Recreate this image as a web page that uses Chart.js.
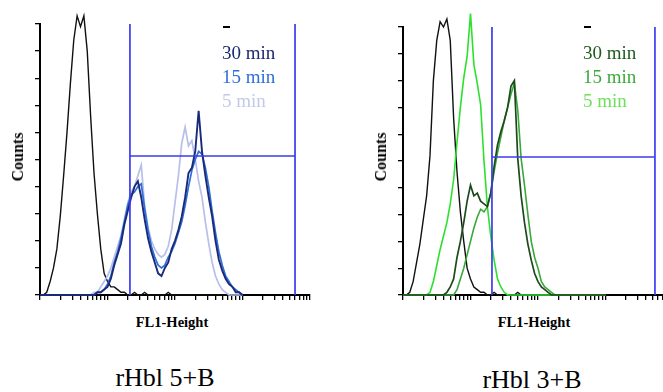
<!DOCTYPE html>
<html>
<head>
<meta charset="utf-8">
<script src="https://cdn.jsdelivr.net/npm/chart.js@4.4.1/dist/chart.umd.min.js"></script>
<style>
  body { margin: 0; width: 663px; height: 392px; overflow: hidden; position: relative; background: #fff; font-family: "Liberation Serif", "Times New Roman", serif; }
  canvas { position: absolute; top: 0; }
  .lbl { position: absolute; white-space: nowrap; line-height: 1; transform: translate(-50%, -50%); }
  .ylab { font-weight: bold; font-size: 16px; transform: translate(-50%, -50%) rotate(-90deg); }
  .xlab { font-weight: bold; font-size: 14.5px; }
  .cap { font-size: 26px; }
  .leg { position: absolute; font-size: 19px; line-height: 24px; white-space: nowrap; }
  .dash { position: absolute; width: 7px; height: 2px; background: #000; }
</style>
</head>
<body>
<canvas id="left" width="340" height="305" style="left:0"></canvas>
<canvas id="right" width="340" height="305" style="left:363px"></canvas>

<div class="lbl ylab" style="left:18px;top:157px">Counts</div>
<div class="lbl ylab" style="left:381px;top:157px">Counts</div>
<div class="lbl xlab" style="left:172px;top:322px">FL1-Height</div>
<div class="lbl xlab" style="left:534px;top:322px">FL1-Height</div>
<div class="lbl cap" style="left:165px;top:378px">rHbl 5+B</div>
<div class="lbl cap" style="left:532px;top:380px">rHbl 3+B</div>

<div class="dash" style="left:223px;top:26px"></div>
<div class="leg" style="left:222px;top:41px;color:#1c2a70">30 min</div>
<div class="leg" style="left:222px;top:65px;color:#2f6fd8">15 min</div>
<div class="leg" style="left:222px;top:89px;color:#c4c9e8">5 min</div>

<div class="dash" style="left:584px;top:26px"></div>
<div class="leg" style="left:583px;top:41px;color:#1f5a1f">30 min</div>
<div class="leg" style="left:583px;top:65px;color:#3caa3c">15 min</div>
<div class="leg" style="left:583px;top:89px;color:#6ee05a">5 min</div>

<script>
// FL1 channel positions, in decades (FL1 = 10^d)
const channelDecades = [
  0.00, 0.05, 0.10, 0.15, 0.20, 0.25, 0.30, 0.35, 0.40, 0.45,
  0.50, 0.55, 0.60, 0.65, 0.70, 0.75, 0.80, 0.85, 0.90, 0.95,
  1.00, 1.05, 1.10, 1.15, 1.20, 1.25, 1.30, 1.35, 1.40, 1.45,
  1.50, 1.55, 1.60, 1.65, 1.70, 1.75, 1.80, 1.85, 1.90, 1.95,
  2.00, 2.05, 2.10, 2.15, 2.20, 2.25, 2.30, 2.35, 2.40, 2.45,
  2.50, 2.55, 2.60, 2.65, 2.70, 2.75, 2.80, 2.85, 2.90, 2.95,
  3.00
];

// rHbl 5+B
const ctrlLeft = [0,0,1,5,10,17,29,44,60,78, 94,103,99,103,90,66,45,30,17,8, 5,3,3,2,1,1,0,0,1,0, 0,1,0,0,0,0,0,0,1,0, 0,0,0,0,0,0,0,0,0,0, 0,0,0,0,0,0,0,0,0,0, 0];
const min30Left = [0,0,0,0,0,0,0,0,0,0, 0,0,0,0,0,0,0,1,1,2, 3,6,11,15,19,26,31,36,40,42, 36,28,21,16,12,8,7,10,12,17, 20,24,29,36,45,47,53,68,53,44, 36,29,20,13,9,6,4,3,1,1, 0];
const min15Left = [0,0,0,0,0,0,0,0,0,0, 0,0,0,0,0,0,0,1,1,2, 4,7,12,16,21,27,33,37,38,40, 41,32,24,18,14,11,10,11,14,16, 19,23,27,33,40,46,50,53,52,47, 40,31,23,16,11,7,5,3,2,1, 0];
const min5Left = [0,0,0,0,0,0,0,0,0,0, 0,0,0,0,0,0,1,1,3,5, 7,10,14,18,22,28,34,38,40,44, 48,33,25,20,17,15,14,15,18,24, 34,44,56,62,55,57,50,42,36,27, 19,12,7,4,2,1,0,0,0,0, 0];

// rHbl 3+B
const ctrlRight = [0,0,1,5,12,19,28,37,52,80, 95,102,100,103,95,66,46,31,20,10, 6,3,2,1,1,0,0,1,0,0, 0,0,0,0,1,0,0,0,0,0, 0,0,0,0,0,0,0,0,0,0, 0,0,0,0,0,0,0,0,0,0, 0];
const min30Right = [0,0,0,0,0,0,0,0,0,0, 0,0,0,1,3,6,14,20,27,35, 41,37,38,35,34,33,38,48,56,61, 65,70,78,80,51,37,27,19,13,8, 5,3,2,1,0,0,0,0,0,0, 0,0,0,0,0,0,0,0,0,0, 0];
const min15Right = [0,0,0,0,0,0,0,0,0,0, 0,0,0,0,0,0,2,6,10,15, 20,25,29,32,31,33,38,46,53,59, 65,70,75,79,69,51,41,30,20,14, 10,5,3,2,1,0,0,0,0,0, 0,0,0,0,0,0,0,0,0,0, 0];
const min5Right = [0,0,0,0,0,0,0,0,1,5, 11,17,22,27,34,43,57,70,81,89, 105,86,79,71,50,33,22,13,6,3, 1,0,0,0,0,0,0,0,0,0, 0,0,0,0,0,0,0,0,0,0, 0,0,0,0,0,0,0,0,0,0, 0];

// gates (FL1 low/high, count level)
const leftGateX = [21.5, 6000];
const leftGateY = 51.3;
const rightGateX = [20.8, 5400];
const rightGateY = 51.5;

const xTickValues = [1,2,3,4,5,6,7,8,9,10, 20,30,40,50,60,70,80,90,100, 200,300,400,500,600,700,800,900,1000, 2000,3000,4000,5000,6000,7000,8000,9000,10000];
const yTickValues = [0,10,20,30,40,50,60,70,80,90,100];

function serie(counts) {
  return counts.map((c, i) => ({ x: Math.pow(10, channelDecades[i]), y: c }));
}

function gate(gx, gy) {
  return [
    { x: gx[0], y: 0 }, { x: gx[0], y: 100 }, { x: gx[0], y: null },
    { x: gx[0], y: gy }, { x: gx[1], y: gy }, { x: gx[1], y: null },
    { x: gx[1], y: 100 }, { x: gx[1], y: 0 }
  ];
}

function linha(data, cor, largura) {
  return { data, borderColor: cor, borderWidth: largura, pointRadius: 0, tension: 0, fill: false, clip: false, spanGaps: false };
}

function montarPainel(id, topo, series, gx, gy) {
  const datasets = [linha(gate(gx, gy), "#3c3cf0", 1.7)];
  series.forEach(s => datasets.push(linha(serie(s.dados), s.cor, s.largura)));
  new Chart(document.getElementById(id), {
    type: "line",
    data: { datasets },
    options: {
      responsive: false,
      animation: false,
      layout: { padding: { top: topo, right: 30, left: 0, bottom: 0 } },
      plugins: { legend: { display: false }, tooltip: { enabled: false } },
      scales: {
        x: {
          type: "logarithmic", min: 1, max: 10000,
          afterBuildTicks: s => { s.ticks = xTickValues.map(v => ({ value: v })); },
          afterFit: s => { s.height = 10; },
          ticks: { display: false },
          grid: { drawOnChartArea: false, drawTicks: true, tickLength: 5, color: "#000", lineWidth: 1.3 },
          border: { color: "#000", width: 2 }
        },
        y: {
          type: "linear", min: 0, max: 100,
          afterBuildTicks: s => { s.ticks = yTickValues.map(v => ({ value: v })); },
          afterFit: s => { s.width = 40; },
          ticks: { display: false },
          grid: { drawOnChartArea: false, drawTicks: true, tickLength: 5, color: "#000", lineWidth: 1.3 },
          border: { color: "#000", width: 2 }
        }
      }
    }
  });
}

montarPainel("left", 24, [
  { dados: min30Left, cor: "#1a2a7a", largura: 1.9 },
  { dados: min15Left, cor: "#2f6fd8", largura: 1.7 },
  { dados: min5Left, cor: "#b8bfea", largura: 1.7 },
  { dados: ctrlLeft, cor: "#111", largura: 1.4 }
], leftGateX, leftGateY);

montarPainel("right", 27, [
  { dados: min30Right, cor: "#1d4a1d", largura: 1.7 },
  { dados: min15Right, cor: "#3aa83a", largura: 1.6 },
  { dados: min5Right, cor: "#2ee02e", largura: 1.6 },
  { dados: ctrlRight, cor: "#111", largura: 1.4 }
], rightGateX, rightGateY);
</script>
</body>
</html>
